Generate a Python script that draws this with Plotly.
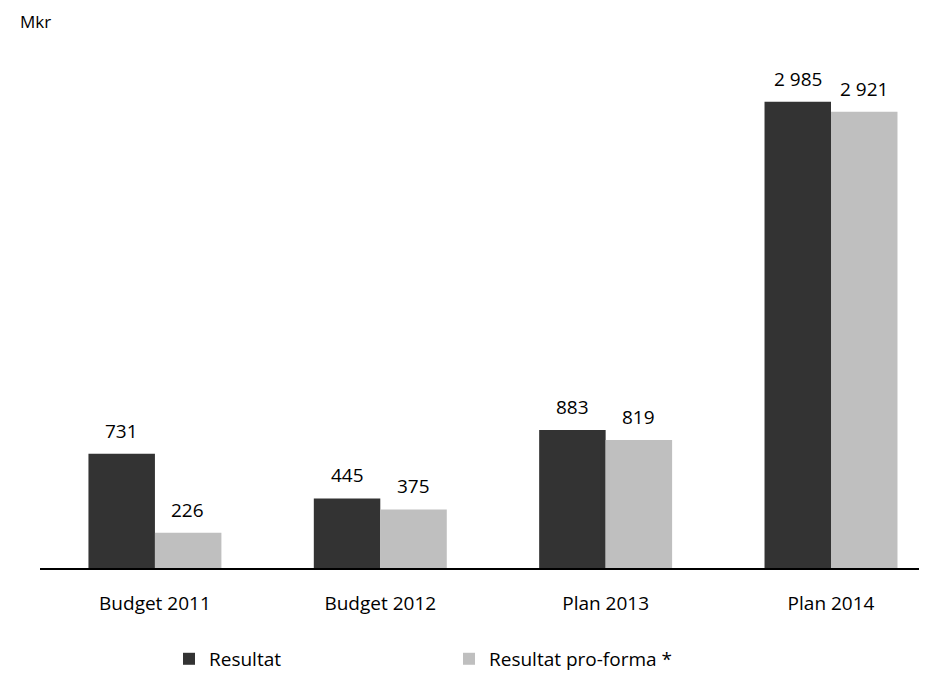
import plotly.graph_objects as go

categories = ["Budget 2011", "Budget 2012", "Plan 2013", "Plan 2014"]
resultat = [731, 445, 883, 2985]
proforma = [226, 375, 819, 2921]
label_resultat = ["731", "445", "883", "2 985"]
label_proforma = ["226", "375", "819", "2 921"]

FONT = "Open Sans"
DARK = "#333333"
LIGHT = "#BFBFBF"

# page body has an 8px margin, so the figure is sized to fill the rest
W, H = 919, 671
L, R, T, B = 32, 0, 52, 111

fig = go.Figure()
fig.add_trace(go.Bar(x=list(range(4)), y=resultat, name="Resultat",
                     marker=dict(color=DARK, line=dict(width=0)), legend="legend"))
fig.add_trace(go.Bar(x=list(range(4)), y=proforma, name="Resultat pro-forma *",
                     marker=dict(color=LIGHT, line=dict(width=0)), legend="legend2"))

ann = []
for i in range(4):
    ann.append(dict(x=i, y=resultat[i], xref="x", yref="y", text=label_resultat[i],
                    showarrow=False, xshift=-33, yshift=8, yanchor="bottom",
                    font=dict(family=FONT, size=19, color="#000000")))
    ann.append(dict(x=i, y=proforma[i], xref="x", yref="y", text=label_proforma[i],
                    showarrow=False, xshift=33, yshift=8, yanchor="bottom",
                    font=dict(family=FONT, size=19, color="#000000")))

pw = W - L - R
fig.update_layout(
    width=W, height=H,
    margin=dict(l=L, r=R, t=T, b=B),
    paper_bgcolor="white", plot_bgcolor="white",
    barmode="group", bargap=0.41, bargroupgap=0,
    font=dict(family=FONT, size=19, color="#000000"),
    title=dict(text="Mkr", xref="container", yref="container", x=12 / W, xanchor="left",
               y=1 - 14 / H, yanchor="middle", pad=dict(t=0, b=0, l=0, r=0),
               font=dict(family=FONT, size=17, color="#000000")),
    xaxis=dict(tickmode="array", tickvals=list(range(4)), ticktext=categories,
               range=[-0.51, 3.426], showline=True, linecolor="#000000", linewidth=2,
               ticks="", showgrid=False, zeroline=False, ticklabelstandoff=17,
               tickfont=dict(family=FONT, size=19, color="#000000")),
    yaxis=dict(range=[0, 3252], visible=False, showgrid=False, zeroline=False),
    legend=dict(orientation="h", x=(161 - L) / pw, y=-0.179, xanchor="left", yanchor="middle",
                font=dict(family=FONT, size=19, color="#000000"), bgcolor="rgba(0,0,0,0)"),
    legend2=dict(orientation="h", x=(441 - L) / pw, y=-0.179, xanchor="left", yanchor="middle",
                 font=dict(family=FONT, size=19, color="#000000"), bgcolor="rgba(0,0,0,0)"),
    annotations=ann,
    showlegend=True,
)

fig.write_html("out.html")
